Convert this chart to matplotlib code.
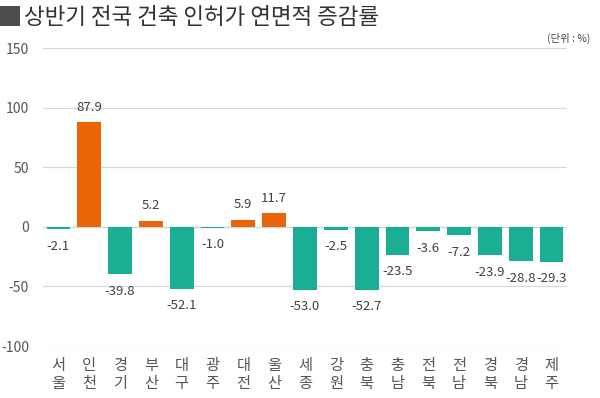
import matplotlib
matplotlib.use("Agg")
import matplotlib.pyplot as plt
from matplotlib.patches import Rectangle

plt.rcParams['font.family'] = ['Noto Sans CJK KR', 'DejaVu Sans']

regions = ["서울", "인천", "경기", "부산", "대구", "광주", "대전", "울산", "세종",
           "강원", "충북", "충남", "전북", "전남", "경북", "경남", "제주"]
values = [-2.1, 87.9, -39.8, 5.2, -52.1, -1.0, 5.9, 11.7, -53.0,
          -2.5, -52.7, -23.5, -3.6, -7.2, -23.9, -28.8, -29.3]
yticks = [-100, -50, 0, 50, 100, 150]
title = "상반기 전국 건축 인허가 연면적 증감률"
unit = "(단위 : %)"

pos_color = "#EC6408"
neg_color = "#1AAE95"
text_color = "#555555"

fig = plt.figure(figsize=(6.0, 3.98), dpi=100)
ax = fig.add_axes([43/600, 1-346/398, (567-43)/600, (346-48)/398])

x = list(range(len(regions)))
colors = [pos_color if v >= 0 else neg_color for v in values]
ax.bar(x, values, width=0.77, color=colors, zorder=3)

for xi, v in zip(x, values):
    if v >= 0:
        ax.annotate(f"{v:.1f}", (xi, v), xytext=(0, 6), textcoords="offset points",
                    ha="center", va="bottom", fontsize=9.5, color="#404040")
    else:
        ax.annotate(f"{v:.1f}", (xi, v), xytext=(0, -7.5), textcoords="offset points",
                    ha="center", va="top", fontsize=9.5, color="#404040")

ax.set_ylim(-100, 150)
ax.set_xlim(-0.5, len(regions) - 0.5)
ax.set_yticks(yticks)
ax.set_yticklabels([str(t) for t in yticks], fontsize=10, color=text_color)
ax.set_xticks(x)
ax.set_xticklabels(["\n".join(r) for r in regions], fontsize=11, color=text_color,
                   linespacing=1.1)
ax.tick_params(axis="both", length=0)
ax.tick_params(axis="y", pad=10)
ax.tick_params(axis="x", pad=8)
for s in ax.spines.values():
    s.set_visible(False)
ax.grid(axis="y", color="#D9D9D9", linewidth=0.9, zorder=0)
ax.axhline(0, color="#BFE3DC", linewidth=1.0, zorder=2)

fig.add_artist(Rectangle((0, 1-26/398), 20/600, 20/398, transform=fig.transFigure,
                         facecolor="#4D4D4D", edgecolor="none"))
fig.text(24/600, 1-17/398, title, fontsize=16.2, color="#333333", va="center", ha="left")
fig.text(590/600, 1-38/398, unit, fontsize=7.5, color="#444444", va="center", ha="right")

fig.savefig("out.png", dpi=100)
